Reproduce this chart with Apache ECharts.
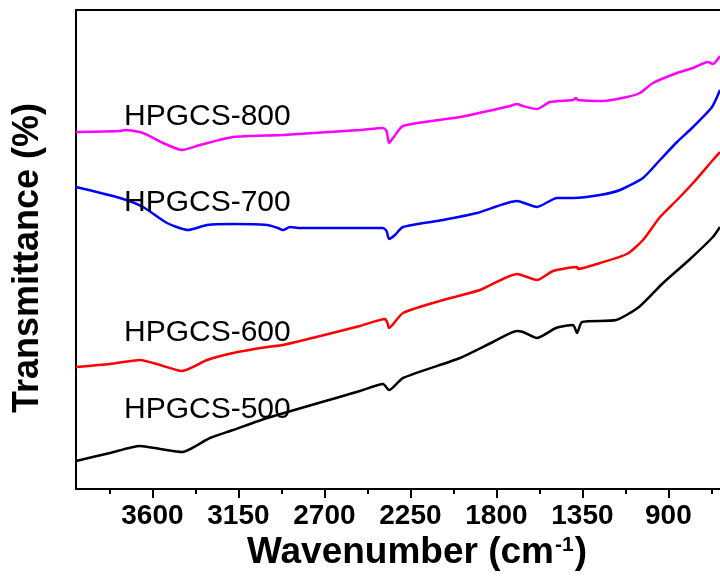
<!DOCTYPE html>
<html>
<head>
<meta charset="utf-8">
<style>html,body{margin:0;padding:0;background:#fff}#c{width:720px;height:583px}</style>
<script src="https://cdn.jsdelivr.net/npm/echarts@6/dist/echarts.min.js"></script>
</head>
<body>
<div id="c"></div>
<script>
// Tick labels (cm-1)
const majorTicks = [3600, 3150, 2700, 2250, 1800, 1350, 900];
const minorTicks = [3825, 3375, 2925, 2475, 2025, 1575, 1125, 675];
const seriesNames = ['HPGCS-800', 'HPGCS-700', 'HPGCS-600', 'HPGCS-500'];

// HPGCS-800 (arbitrary transmittance units)
const wn800 = [4000,3770,3744,3649,3545,3445,3351,3178,2917,2514,2393,2375,2362,2341,2289,1990,1729,1692,1661,1588,1520,1399,1384,1373,1242,1117,1049,981,855,771,693,667,630];
const t800  = [357,358,359,356,346,339,344,352,354,359,361,358,346,351,363,372,383,385,383,380,387,389,391,389,388,392,396,406,416,421,427,425,433];

// HPGCS-700
const wn700 = [4000,3770,3649,3524,3414,3314,3178,3000,2943,2917,2880,2828,2514,2393,2375,2362,2331,2289,2079,1902,1692,1588,1483,1399,1258,1153,1033,944,855,771,672,630];
const t700  = [302,291,282,266,259,264,265,264,261,259,262,261,261,261,258,250,254,262,269,276,288,282,291,291,294,299,311,329,347,362,382,399];

// HPGCS-600
const wn600 = [4000,3822,3665,3560,3445,3314,3178,3000,2917,2514,2383,2370,2362,2289,2059,1886,1692,1588,1504,1378,1373,1258,1117,1033,944,855,771,667,630];
const t600  = [122,125,129,124,118,129,136,142,144,163,170,166,161,176,190,199,215,209,218,222,220,226,235,249,272,289,306,329,337];

// HPGCS-500
const wn500 = [4000,3822,3665,3560,3445,3299,3178,3000,2514,2393,2362,2289,1990,1818,1692,1661,1588,1488,1399,1378,1352,1174,1054,928,792,667,630];
const t500  = [28,36,43,40,37,51,59,71,98,105,99,111,131,147,158,157,151,161,164,156,167,169,182,206,229,252,262];

const colors = ['#FF00FF', '#0000FF', '#FF0000', '#000000'];
const zip = (a, b) => a.map((v, i) => [v, b[i]]);
const allData = [zip(wn800, t800), zip(wn700, t700), zip(wn600, t600), zip(wn500, t500)];
const labelTops = [117, 203, 333, 410];

const chart = echarts.init(document.getElementById('c'));
const FONT = 'Liberation Sans, Arial, sans-serif';
const X_MIN = 630, X_MAX = 4000;
chart.setOption({
  animation: false,
  grid: { left: 76, top: 10, right: 0, bottom: 94, show: false },
  xAxis: [{
    type: 'value', inverse: true, min: X_MIN, max: X_MAX,
    axisLine: { show: true, lineStyle: { color: '#000', width: 2 } },
    axisTick: { show: true, customValues: majorTicks, length: 9, inside: false, lineStyle: { color: '#000', width: 2 } },
    axisLabel: { show: true, customValues: majorTicks, margin: 13, color: '#000', fontFamily: FONT, fontWeight: 'bold', fontSize: 28,
      formatter: v => String(v) },
    splitLine: { show: false }
  }, {
    type: 'value', inverse: true, min: X_MIN, max: X_MAX, position: 'bottom',
    axisLine: { show: false },
    axisTick: { show: true, customValues: minorTicks, length: 5, lineStyle: { color: '#000', width: 2 } },
    axisLabel: { show: false },
    splitLine: { show: false }
  }, {
    type: 'value', inverse: true, min: X_MIN, max: X_MAX, position: 'top',
    axisLine: { show: true, lineStyle: { color: '#000', width: 2 } },
    axisTick: { show: false }, axisLabel: { show: false }, splitLine: { show: false }
  }],
  yAxis: {
    type: 'value', min: 0, max: 479,
    axisLine: { show: true, lineStyle: { color: '#000', width: 2 } },
    axisTick: { show: false }, axisLabel: { show: false }, splitLine: { show: false }
  },
  graphic: [
    { type: 'text', x: 28, y: 258, rotation: Math.PI / 2,
      style: { text: 'Transmittance (%)', fill: '#000', font: 'bold 36px ' + FONT, align: 'center', verticalAlign: 'middle' } },
    { type: 'text', x: 417, y: 553,
      style: { text: '{m|Wavenumber (cm}{s|-1}{m|)}', align: 'center', verticalAlign: 'middle',
        rich: {
          m: { fontFamily: FONT, fontWeight: 'bold', fontSize: 37, fill: '#000', verticalAlign: 'bottom' },
          s: { fontFamily: FONT, fontWeight: 'bold', fontSize: 21, fill: '#000', verticalAlign: 'top', padding: [0, 1, 14, 1] }
        } } }
  ].concat(seriesNames.map((n, i) => ({
    type: 'text', x: 124, y: labelTops[i],
    style: { text: n, fill: '#000', font: '30px ' + FONT, align: 'left', verticalAlign: 'middle' }, z: 10
  }))),
  series: allData.map((d, i) => ({
    name: seriesNames[i], type: 'line', data: d, showSymbol: false, smooth: 0.2,
    lineStyle: { color: colors[i], width: 2.5 }, clip: true, z: 2
  }))
});
</script>
</body>
</html>
